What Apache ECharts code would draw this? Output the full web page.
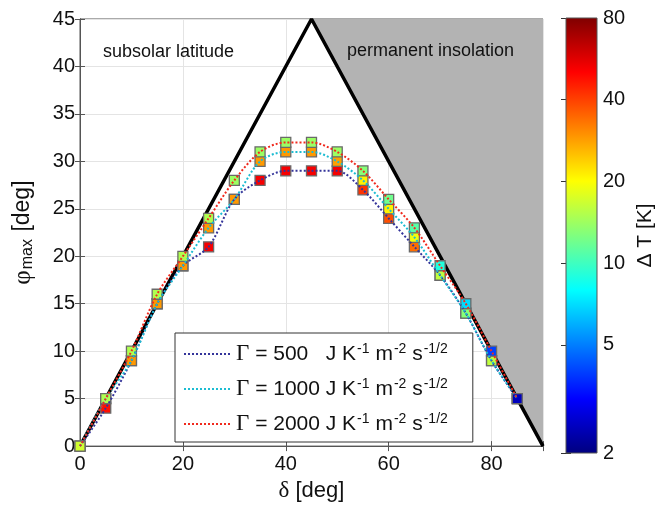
<!DOCTYPE html>
<html lang="en">
<head>
<meta charset="UTF-8">
<title>phi max vs delta</title>
<script src="https://cdn.jsdelivr.net/npm/echarts@6/dist/echarts.min.js"></script>
</head>
<body style="margin:0;background:#fff">
<div id="main" style="width:670px;height:507px;"></div>
<script>
// declination (x) and maximum latitude (y) per thermal inertia
var delta = [0, 5, 10, 15, 20, 25, 30, 35, 40, 45, 50, 55, 60, 65, 70, 75, 80, 85];
var phi500 = [0, 4, 9, 15, 19, 21, 26, 28, 29, 29, 29, 27, 24, 21, 18, 14, 9, 5];
var phi1000 = [0, 5, 9, 15, 19, 23, 26, 30, 31, 31, 30, 28, 25, 22, 18, 14, 9, 5];
var phi2000 = [0, 5, 10, 16, 20, 24, 28, 31, 32, 32, 31, 29, 26, 23, 19, 15, 10, 5];
// temperature contrast (marker colour), K
var dT500 = [30, 48, 50, 48, 45, 52, 50, 52, 52, 52, 52, 42, 38, 34, 30, 22, 15, 3];
var dT1000 = [25, 28, 29, 29, 29, 29, 29, 29, 29, 29, 28, 21, 21, 19, 16, 13, 16, 3];
var dT2000 = [17, 15, 15, 15, 15, 15, 14, 14, 14, 14, 14, 13, 12, 11, 9, 7, 4, 2.5];
// subsolar latitude limit and permanent insolation region
var boundX = [0, 45, 90];
var boundY = [0, 45, 0];
var shadeX = [45, 90, 90];
var shadeY = [45, 45, 0];
var cbTicks = [2, 5, 10, 20, 40, 80];
var gammaNames = ['Γ = 500', 'Γ = 1000', 'Γ = 2000'];

var jet = ['#00007f', '#0000ff', '#007fff', '#00ffff', '#7fff7f', '#ffff00', '#ff7f00', '#ff0000', '#7f0000'];
var lineColors = ['#34349a', '#1cbcd2', '#f02a1e'];
var font = 'Liberation Sans';

function pts(ys, ts) {
    return delta.map(function (d, i) { return [d, ys[i], Math.log10(ts[i])]; });
}
function linePts(ys) {
    return delta.map(function (d, i) { return [d, ys[i]]; });
}

var phis = [phi500, phi1000, phi2000];
var dTs = [dT500, dT1000, dT2000];

var series = [];
series.push({
    type: 'custom',
    xAxisIndex: 0, yAxisIndex: 0,
    silent: true,
    z: 1,
    data: [[shadeX[0], shadeY[0]]],
    renderItem: function (params, api) {
        var p = shadeX.map(function (x, i) { return api.coord([x, shadeY[i]]); });
        return { type: 'polygon', shape: { points: p }, style: { fill: '#b3b3b3' } };
    }
});
series.push({
    type: 'line',
    xAxisIndex: 0, yAxisIndex: 0,
    data: boundX.map(function (x, i) { return [x, boundY[i]]; }),
    symbol: 'none',
    lineStyle: { color: '#000', width: 3.5 },
    z: 2,
    silent: true
});
for (var k = 0; k < 3; k++) {
    series.push({
        type: 'scatter',
        xAxisIndex: 0, yAxisIndex: 0,
        data: pts(phis[k], dTs[k]),
        symbol: 'rect',
        symbolSize: 10,
        itemStyle: { borderColor: '#6a6a6a', borderWidth: 1.3, opacity: 1 },
        z: 3 + k
    });
}
for (var k = 0; k < 3; k++) {
    series.push({
        name: gammaNames[k],
        type: 'line',
        xAxisIndex: 0, yAxisIndex: 0,
        data: linePts(phis[k]),
        symbol: 'none',
        smooth: 0.3,
        lineStyle: { color: lineColors[k], width: 2, type: 'dotted' },
        itemStyle: { color: lineColors[k] },
        z: 7 + k
    });
}
// colour bar
series.push({
    type: 'custom',
    xAxisIndex: 2, yAxisIndex: 2,
    silent: true,
    data: [[0, cbTicks[0]]],
    renderItem: function (params, api) {
        var top = api.coord([0, cbTicks[cbTicks.length - 1]]);
        var bot = api.coord([0, cbTicks[0]]);
        var cs = params.coordSys;
        var stops = jet.map(function (c, i) { return { offset: i / (jet.length - 1), color: c }; });
        return {
            type: 'rect',
            shape: { x: cs.x, y: top[1], width: cs.width, height: bot[1] - top[1] },
            style: { fill: new echarts.graphic.LinearGradient(0, 1, 0, 0, stops), stroke: '#555', lineWidth: 1 }
        };
    }
});

var tickCommon = { inside: true, length: 5, lineStyle: { color: '#555' } };

var option = {
    backgroundColor: '#fff',
    animation: false,
    textStyle: { fontFamily: font },
    grid: [
        { left: 80, top: 19, width: 463, height: 433, show: true, borderColor: '#555', borderWidth: 1, backgroundColor: '#fff' },
        { left: 566, top: 18, width: 31, height: 435 }
    ],
    visualMap: {
        show: false,
        type: 'continuous',
        seriesIndex: [2, 3, 4],
        dimension: 2,
        min: Math.log10(cbTicks[0]),
        max: Math.log10(cbTicks[cbTicks.length - 1]),
        inRange: { color: jet }
    },
    legend: {
        data: gammaNames,
        orient: 'vertical',
        left: 175,
        top: 333,
        itemWidth: 47,
        itemHeight: 14,
        itemGap: 11,
        padding: [9, 25, 6, 8],
        backgroundColor: '#fff',
        borderColor: '#333',
        borderWidth: 1,
        borderRadius: 0,
        selectedMode: false,
        itemStyle: { opacity: 0 },
        formatter: function (name) {
            var num = name.replace('Γ = ', '');
            var pad = num.length < 4 ? '   ' : ' ';
            return '{g|Γ}{n| = ' + num + pad + 'J K}{s|-1}{n| m}{s|-2}{n| s}{s|-1/2}';
        },
        textStyle: {
            color: '#111',
            rich: {
                g: { fontFamily: 'Liberation Serif', fontSize: 23, lineHeight: 24, color: '#111' },
                n: { fontFamily: font, fontSize: 21, lineHeight: 24, color: '#111' },
                s: { fontFamily: font, fontSize: 14, lineHeight: 24, verticalAlign: 'top', color: '#111', padding: [0, 0, 10, 1] }
            }
        }
    },
    graphic: [
        { type: 'text', left: 103, top: 43, style: { text: 'subsolar latitude', font: '18px ' + font, fill: '#111' }, z: 20 },
        { type: 'text', left: 347, top: 42, style: { text: 'permanent insolation', font: '18px ' + font, fill: '#111' }, z: 20 }
    ],
    xAxis: [
        {
            gridIndex: 0, type: 'value', min: 0, max: 90, interval: 20,
            name: '{d|δ}{n| [deg]}', nameLocation: 'middle', nameGap: 31,
            nameTextStyle: { rich: { d: { fontFamily: 'Liberation Serif', fontSize: 23, color: '#111' }, n: { fontFamily: font, fontSize: 22, color: '#111' } } },
            axisLine: { show: true, lineStyle: { color: '#555' } },
            axisTick: tickCommon,
            axisLabel: { fontSize: 20, color: '#111', margin: 8, formatter: function (v) { return v === 90 ? '' : v; } },
            splitLine: { show: true, lineStyle: { color: '#e4e4e4', width: 1 } }
        },
        {
            gridIndex: 0, type: 'value', min: 0, max: 90, interval: 20, position: 'top',
            axisLine: { show: true, lineStyle: { color: '#555' } },
            axisTick: tickCommon, axisLabel: { show: false }, splitLine: { show: false }
        },
        {
            gridIndex: 1, type: 'value', min: 0, max: 1, show: false
        }
    ],
    yAxis: [
        {
            gridIndex: 0, type: 'value', min: 0, max: 45, interval: 5,
            name: '{p|φ}{sub|max}{n| [deg]}', nameLocation: 'middle', nameGap: 44, nameRotate: 90,
            nameTextStyle: { rich: {
                p: { fontFamily: 'Liberation Serif', fontSize: 25, color: '#111' },
                sub: { fontFamily: font, fontSize: 16, color: '#111', verticalAlign: 'bottom', padding: [10, 1, 0, 1] },
                n: { fontFamily: font, fontSize: 23, color: '#111' }
            } },
            axisLine: { show: true, lineStyle: { color: '#555' } },
            axisTick: tickCommon,
            axisLabel: { fontSize: 20, color: '#111', margin: 5 },
            splitLine: { show: true, lineStyle: { color: '#e4e4e4', width: 1 } }
        },
        {
            gridIndex: 0, type: 'value', min: 0, max: 45, interval: 5, position: 'right',
            axisLine: { show: true, lineStyle: { color: '#555' } },
            axisTick: tickCommon, axisLabel: { show: false }, splitLine: { show: false }
        },
        {
            gridIndex: 1, type: 'log', min: cbTicks[0], max: cbTicks[cbTicks.length - 1], position: 'right',
            name: 'Δ T [K]', nameLocation: 'middle', nameGap: 38, nameRotate: 90,
            nameTextStyle: { fontSize: 21, color: '#111' },
            axisLine: { show: false },
            axisTick: { show: true, inside: true, length: 5, lineStyle: { color: '#333' }, customValues: cbTicks },
            axisLabel: { fontSize: 20, color: '#111', margin: 6, customValues: cbTicks },
            splitLine: { show: false }
        },
        {
            gridIndex: 1, type: 'log', min: cbTicks[0], max: cbTicks[cbTicks.length - 1], position: 'left',
            axisLine: { show: false },
            axisTick: { show: true, inside: true, length: 5, lineStyle: { color: '#333' }, customValues: cbTicks },
            axisLabel: { show: false },
            splitLine: { show: false }
        }
    ],
    series: series
};

var myChart = echarts.init(document.getElementById('main'));
myChart.setOption(option);
</script>
</body>
</html>
